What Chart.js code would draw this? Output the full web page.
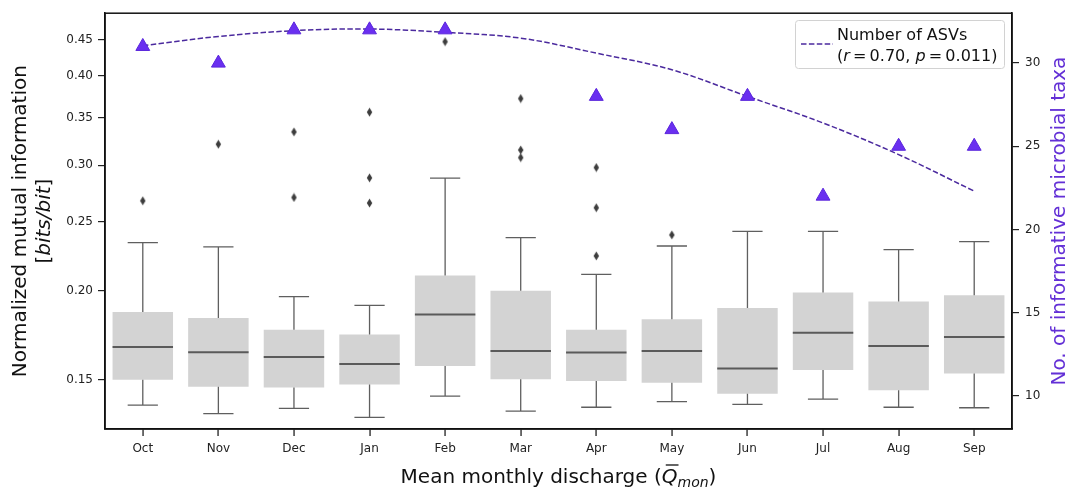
<!DOCTYPE html>
<html>
<head>
<meta charset="utf-8">
<script src="https://cdn.jsdelivr.net/npm/chart.js@4.4.0/dist/chart.umd.min.js"></script>
<style>
  body { margin: 0; background: #fff; }
  #wrap { width: 1073px; height: 487px; }
</style>
</head>
<body>
<div id="wrap"><canvas id="mi-chart" width="1073" height="487"></canvas></div>
<script>
// Months (x categories)
const months = ['Oct', 'Nov', 'Dec', 'Jan', 'Feb', 'Mar', 'Apr', 'May', 'Jun', 'Jul', 'Aug', 'Sep'];

// Box plot stats for normalized mutual information
const whiskerLow  = [0.1383, 0.1345, 0.1368, 0.1329, 0.1423, 0.1356, 0.1373, 0.1398, 0.1386, 0.1410, 0.1373, 0.1371];
const q1          = [0.1500, 0.1467, 0.1464, 0.1478, 0.1569, 0.1503, 0.1494, 0.1486, 0.1434, 0.1548, 0.1451, 0.1531];
const median      = [0.1668, 0.1640, 0.1615, 0.1579, 0.1853, 0.1647, 0.1638, 0.1647, 0.1556, 0.1747, 0.1673, 0.1723];
const q3          = [0.1867, 0.1831, 0.1764, 0.1736, 0.2101, 0.2000, 0.1764, 0.1825, 0.1891, 0.1989, 0.1932, 0.1972];
const whiskerHigh = [0.2336, 0.2304, 0.1963, 0.1908, 0.2877, 0.2374, 0.2108, 0.2311, 0.2423, 0.2423, 0.2284, 0.2344];

// Outliers: [month, value]
const outliers = [
  ['Oct', 0.2674], ['Nov', 0.3210], ['Dec', 0.3340], ['Dec', 0.2703],
  ['Jan', 0.3560], ['Jan', 0.2880], ['Jan', 0.2655], ['Feb', 0.4470],
  ['Mar', 0.3720], ['Mar', 0.3151], ['Mar', 0.3074],
  ['Apr', 0.2977], ['Apr', 0.2615], ['Apr', 0.2238], ['May', 0.2395]
];

// Number of informative taxa (right axis) and fitted curve
const taxaCount = [31, 30, 32, 32, 32, null, 28, 26, 28, 22, 25, 25];
const fitLine   = [31.05, 31.6, 31.95, 32.05, 31.85, 31.5, 30.6, 29.6, 28.0, 26.4, 24.5, 22.3];

// Tick labels
const leftTicks  = [0.15, 0.20, 0.25, 0.30, 0.35, 0.40, 0.45];
const rightTicks = [10, 15, 20, 25, 30];

const FONT = "'DejaVu Sans', 'Liberation Sans', sans-serif";
const PURPLE_LINE = '#4b2a9e';
const PURPLE_MARK = '#6a2ff0';
const PURPLE_TEXT = '#6330d6';
const DASH = [5.5, 2.4];

// thin diamond marker like matplotlib 'd'
const diamond = document.createElement('canvas');
diamond.width = 7; diamond.height = 10;
(function () {
  const c = diamond.getContext('2d');
  c.fillStyle = '#3d3d3d';
  c.beginPath();
  c.moveTo(3.5, 0.5); c.lineTo(6.2, 5); c.lineTo(3.5, 9.5); c.lineTo(0.8, 5);
  c.closePath(); c.fill();
})();

// whiskers, caps and medians on top of the boxes
const boxExtras = {
  id: 'boxExtras',
  afterDatasetDraw(chart, args) {
    if (chart.data.datasets[args.index].label !== 'box') return;
    const ctx = chart.ctx;
    const y = chart.scales.y;
    ctx.save();
    args.meta.data.forEach((bar, i) => {
      const x = bar.x, half = bar.width / 2;
      ctx.strokeStyle = '#5f5f5f';
      ctx.lineWidth = 1.3;
      ctx.beginPath();
      ctx.moveTo(x, y.getPixelForValue(whiskerLow[i]));
      ctx.lineTo(x, y.getPixelForValue(q1[i]));
      ctx.moveTo(x, y.getPixelForValue(q3[i]));
      ctx.lineTo(x, y.getPixelForValue(whiskerHigh[i]));
      ctx.moveTo(x - half / 2, y.getPixelForValue(whiskerLow[i]));
      ctx.lineTo(x + half / 2, y.getPixelForValue(whiskerLow[i]));
      ctx.moveTo(x - half / 2, y.getPixelForValue(whiskerHigh[i]));
      ctx.lineTo(x + half / 2, y.getPixelForValue(whiskerHigh[i]));
      ctx.stroke();
      ctx.lineWidth = 2;
      ctx.strokeStyle = '#5a5a5a';
      ctx.beginPath();
      ctx.moveTo(x - half, y.getPixelForValue(median[i]));
      ctx.lineTo(x + half, y.getPixelForValue(median[i]));
      ctx.stroke();
    });
    ctx.restore();
  }
};

// draws a run of [text, italic, size, dy] pieces starting at x
function drawPieces(ctx, pieces, x, y) {
  pieces.forEach(p => {
    ctx.font = (p[1] ? 'italic ' : '') + p[2] + 'px ' + FONT;
    ctx.fillText(p[0], x, y + (p[3] || 0));
    x += ctx.measureText(p[0]).width;
  });
  return x;
}
function piecesWidth(ctx, pieces) {
  let w = 0;
  pieces.forEach(p => {
    ctx.font = (p[1] ? 'italic ' : '') + p[2] + 'px ' + FONT;
    w += ctx.measureText(p[0]).width;
  });
  return w;
}

const decorations = {
  id: 'decorations',
  afterDraw(chart) {
    const ctx = chart.ctx;
    const a = chart.chartArea;
    ctx.save();
    ctx.setLineDash([]);
    // frame
    ctx.strokeStyle = '#111';
    ctx.lineWidth = 1.5;
    ctx.strokeRect(a.left, a.top, a.right - a.left, a.bottom - a.top);

    // x tick marks at category centres
    ctx.fillStyle = '#222';
    const xs = chart.scales.x;
    for (let i = 0; i < months.length; i++) {
      const px = xs.getPixelForValue(i);
      ctx.fillRect(Math.round(px) - 0.6, Math.round(a.bottom), 1.3, 7);
    }

    const midY = (a.top + a.bottom) / 2;
    ctx.textBaseline = 'middle';

    // left title
    ctx.fillStyle = '#111';
    ctx.save();
    ctx.translate(21, midY);
    ctx.rotate(-Math.PI / 2);
    ctx.textAlign = 'center';
    ctx.font = '20px ' + FONT;
    ctx.fillText('Normalized mutual information', 0, 0);
    ctx.restore();

    ctx.save();
    ctx.translate(45, midY);
    ctx.rotate(-Math.PI / 2);
    ctx.textAlign = 'left';
    const unit = [['[', false, 20], ['bits/bit', true, 20], [']', false, 20]];
    drawPieces(ctx, unit, -piecesWidth(ctx, unit) / 2, 0);
    ctx.restore();

    // right title
    ctx.save();
    ctx.fillStyle = PURPLE_TEXT;
    ctx.translate(1060, midY);
    ctx.rotate(-Math.PI / 2);
    ctx.textAlign = 'center';
    ctx.font = '20px ' + FONT;
    ctx.fillText('No. of informative microbial taxa', 0, 0);
    ctx.restore();

    // x title
    ctx.textAlign = 'left';
    ctx.textBaseline = 'alphabetic';
    const xt = [['Mean monthly discharge (', false, 20], ['Q', true, 20], ['mon', true, 14, 4], [')', false, 20]];
    const x0 = (a.left + a.right) / 2 - piecesWidth(ctx, xt) / 2;
    const base = 483;
    let xx = drawPieces(ctx, xt.slice(0, 1), x0, base);
    const qStart = xx;
    xx = drawPieces(ctx, xt.slice(1), xx, base);
    ctx.font = 'italic 20px ' + FONT;
    const qW = ctx.measureText('Q').width;
    ctx.lineWidth = 1.3;
    ctx.strokeStyle = '#111';
    ctx.beginPath();
    ctx.moveTo(qStart + 4, base - 18);
    ctx.lineTo(qStart + qW + 1, base - 18);
    ctx.stroke();

    // legend
    ctx.fillStyle = 'rgba(255,255,255,0.85)';
    ctx.strokeStyle = '#d2d2d2';
    ctx.lineWidth = 1;
    ctx.beginPath();
    ctx.roundRect(795.5, 20.5, 209, 48, 3);
    ctx.fill();
    ctx.stroke();
    ctx.strokeStyle = PURPLE_LINE;
    ctx.lineWidth = 1.5;
    ctx.setLineDash(DASH);
    ctx.beginPath();
    ctx.moveTo(801, 44);
    ctx.lineTo(833, 44);
    ctx.stroke();
    ctx.setLineDash([]);
    ctx.fillStyle = '#111';
    ctx.font = '16px ' + FONT;
    ctx.fillText('Number of ASVs', 837, 40);
    drawPieces(ctx, [['(', false, 16], ['r', true, 16], ['\u2009=\u20090.70, ', false, 16], ['p', true, 16], ['\u2009=\u20090.011)', false, 16]], 837, 61);
    ctx.restore();
  }
};

const outlierPoints = outliers.map(o => ({ x: o[0], y: o[1] }));
const tickFont = { family: FONT, size: 12 };

new Chart(document.getElementById('mi-chart'), {
  type: 'bar',
  data: {
    labels: months,
    datasets: [
      {
        type: 'line', label: 'fit', data: fitLine, yAxisID: 'y2',
        borderColor: PURPLE_LINE, borderWidth: 1.5, borderDash: DASH,
        pointRadius: 0, tension: 0.35, fill: false, order: 2
      },
      {
        type: 'line', label: 'taxa', data: taxaCount, yAxisID: 'y2', showLine: false,
        pointStyle: 'triangle', pointRadius: 8, backgroundColor: PURPLE_MARK,
        borderColor: '#5a26dc', borderWidth: 1, order: 1
      },
      {
        type: 'line', label: 'outliers', data: outlierPoints, yAxisID: 'y', showLine: false,
        pointStyle: diamond, pointRadius: 4, order: 3
      },
      {
        type: 'bar', label: 'box', data: months.map((m, i) => [q1[i], q3[i]]), yAxisID: 'y',
        backgroundColor: '#d3d3d3', barPercentage: 0.8, categoryPercentage: 1, order: 4
      }
    ]
  },
  options: {
    responsive: false,
    animation: false,
    layout: { padding: { top: 12, left: 0, right: 0, bottom: 0 } },
    plugins: { legend: { display: false }, tooltip: { enabled: false } },
    scales: {
      x: {
        type: 'category', offset: true,
        grid: { display: true, drawOnChartArea: false, tickLength: 7, color: 'rgba(0,0,0,0)' },
        border: { display: true, color: '#111', width: 1.5 },
        ticks: { font: tickFont, color: '#222', padding: 6 },
        afterFit(s) { s.height = 58; }
      },
      y: {
        type: 'logarithmic', position: 'left', min: 0.128, max: 0.49, bounds: 'data',
        afterBuildTicks(s) { s.ticks = leftTicks.map(v => ({ value: v })); },
        grid: { display: true, drawOnChartArea: false, tickLength: 7, color: '#222', lineWidth: 1.2 },
        border: { display: true, color: '#111', width: 1.5 },
        ticks: { font: tickFont, color: '#222', padding: 5, callback: v => Number(v).toFixed(2) },
        afterFit(s) { s.width = 105; }
      },
      y2: {
        type: 'linear', position: 'right', min: 8, max: 33,
        afterBuildTicks(s) { s.ticks = rightTicks.map(v => ({ value: v })); },
        grid: { display: true, drawOnChartArea: false, tickLength: 7, color: '#222', lineWidth: 1.2 },
        border: { display: true, color: '#111', width: 1.5 },
        ticks: { font: tickFont, color: '#222', padding: 6 },
        afterFit(s) { s.width = 61; }
      }
    }
  },
  plugins: [boxExtras, decorations]
});
</script>
</body>
</html>
